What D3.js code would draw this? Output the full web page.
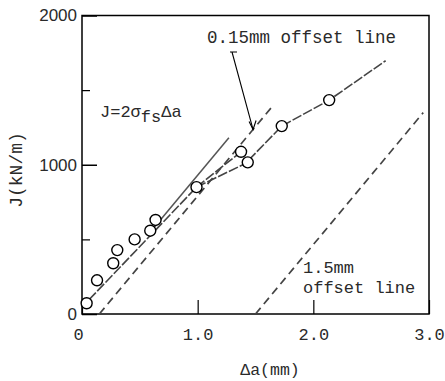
<!DOCTYPE html>
<html>
<head>
<meta charset="utf-8">
<script src="https://cdn.jsdelivr.net/npm/d3@7"></script>
<style>
  html, body { margin: 0; padding: 0; background: #fff; }
  svg { display: block; }
</style>
</head>
<body>
<svg id="chart" width="445" height="381"></svg>
<script>
// ---- data ----
const xTicks = [0, 1, 2, 3];
const xTickLabels = ["0", "1.0", "2.0", "3.0"];
const yMajorTicks = [0, 1000, 2000];
const yTickLabels = ["0", "1000", "2000"];
const yMinorTicks = [500, 1500];

// measured points: [Δa (mm), J (kN/m)]
const points = [
  [0.04, 72], [0.13, 226], [0.27, 340], [0.305, 428], [0.455, 500],
  [0.59, 558], [0.636, 630], [0.99, 850], [1.375, 1087], [1.433, 1016],
  [1.727, 1259], [2.137, 1433]
];
// R-curve line pieces
const fitLow   = [[0.06, 95], [0.99, 850]];
const fanA     = [[0.99, 850], [1.375, 1087]];
const fanB     = [[0.99, 850], [1.433, 1016]];
const fitHigh  = [[1.44, 1030], [1.727, 1259], [2.137, 1433], [2.625, 1697]];
// construction lines
const blunting   = [[0.6, 558], [1.27, 1181]];
const offset015  = [[0.15, 0], [1.64, 1386]];
const offset15   = [[1.5, 0], [2.95, 1349]];

// ---- drawing ----
const svg = d3.select("#chart");
const x = d3.scaleLinear().domain([0, 3]).range([82, 429]);
const y = d3.scaleLinear().domain([0, 2000]).range([314, 15.5]);
const line = d3.line().x(d => x(d[0])).y(d => y(d[1]));
const mono = "'Liberation Mono', 'DejaVu Sans Mono', monospace";
const sans = "'Liberation Sans', Arial, sans-serif";
const ink = "#2a2a2a";

// frame
svg.append("rect")
  .attr("x", x(0)).attr("y", y(2000))
  .attr("width", x(3) - x(0)).attr("height", y(0) - y(2000))
  .attr("fill", "none").attr("stroke", "#000").attr("stroke-width", 1.5);

// x axis
const xAxis = svg.append("g").attr("transform", `translate(0,${y(0)})`)
  .call(d3.axisBottom(x).tickValues(xTicks).tickSizeInner(-14).tickSizeOuter(0)
    .tickPadding(14).tickFormat((d, i) => xTickLabels[i]));
xAxis.select(".domain").remove();
xAxis.selectAll("line").attr("stroke", "#000").attr("stroke-width", 1.2);
xAxis.selectAll("text").attr("font-family", mono).attr("font-size", 17).attr("fill", ink)
  .attr("dx", (d, i) => i === 0 ? -4 : 0);

// y axis major
const yAxis = svg.append("g").attr("transform", `translate(${x(0)},0)`)
  .call(d3.axisLeft(y).tickValues(yMajorTicks).tickSizeInner(-15).tickSizeOuter(0)
    .tickPadding(5).tickFormat((d, i) => yTickLabels[i]));
yAxis.select(".domain").remove();
yAxis.selectAll("line").attr("stroke", "#000").attr("stroke-width", 1.5);
yAxis.selectAll("text").attr("font-family", sans).attr("font-size", 17).attr("fill", ink);
// y axis minor
const yMinor = svg.append("g").attr("transform", `translate(${x(0)},0)`)
  .call(d3.axisLeft(y).tickValues(yMinorTicks).tickSizeInner(-8).tickSizeOuter(0).tickFormat(""));
yMinor.select(".domain").remove();
yMinor.selectAll("line").attr("stroke", "#000").attr("stroke-width", 1.2);

// axis titles
svg.append("text").attr("x", 270).attr("y", 375).attr("text-anchor", "middle")
  .attr("font-family", mono).attr("font-size", 16.5).attr("fill", ink).text("Δa(mm)");
svg.append("text").attr("transform", "translate(22,170) rotate(-90)").attr("text-anchor", "middle")
  .attr("font-family", mono).attr("font-size", 18).attr("fill", ink).text("J(kN/m)");

// construction lines
svg.append("path").attr("d", line(blunting)).attr("fill", "none")
  .attr("stroke", "#555").attr("stroke-width", 1.5);
[offset015, offset15].forEach(seg => {
  svg.append("path").attr("d", line(seg)).attr("fill", "none")
    .attr("stroke", "#444").attr("stroke-width", 1.7).attr("stroke-dasharray", "8,5");
});

// R-curve pieces
[fitLow, fanA, fanB, fitHigh].forEach(seg => {
  svg.append("path").attr("d", line(seg)).attr("fill", "none")
    .attr("stroke", "#444").attr("stroke-width", 1.6).attr("stroke-dasharray", "10,2");
});

// points
svg.selectAll("circle.pt").data(points).join("circle").attr("class", "pt")
  .attr("cx", d => x(d[0])).attr("cy", d => y(d[1])).attr("r", 5.5)
  .attr("fill", "#fff").attr("stroke", "#000").attr("stroke-width", 1.4);

// annotations
svg.append("text").attr("x", 207).attr("y", 43).attr("font-family", mono)
  .attr("font-size", 17.5).attr("fill", ink).text("0.15mm offset line");
// leader with arrow
const tip = [x(1.479), y(1236)];
svg.append("path").attr("d", `M230,52 L237,52 M232,52 L${tip[0]},${tip[1]}`)
  .attr("fill", "none").attr("stroke", "#000").attr("stroke-width", 1.1);
svg.append("path").attr("d", `M${tip[0]-4},${tip[1]-8} L${tip[0]},${tip[1]} L${tip[0]+3},${tip[1]-9}`)
  .attr("fill", "none").attr("stroke", "#000").attr("stroke-width", 1.1);

const jt = svg.append("text").attr("x", 100).attr("y", 117).attr("font-family", mono)
  .attr("font-size", 17).attr("fill", ink);
jt.append("tspan").text("J=2σ");
jt.append("tspan").attr("dy", 5).text("fs");
jt.append("tspan").attr("dy", -5).text("Δa");

svg.append("text").attr("x", 303).attr("y", 273).attr("font-family", mono)
  .attr("font-size", 17).attr("fill", ink).text("1.5mm");
svg.append("text").attr("x", 303).attr("y", 293).attr("font-family", mono)
  .attr("font-size", 17).attr("fill", ink).text("offset line");
</script>
</body>
</html>
